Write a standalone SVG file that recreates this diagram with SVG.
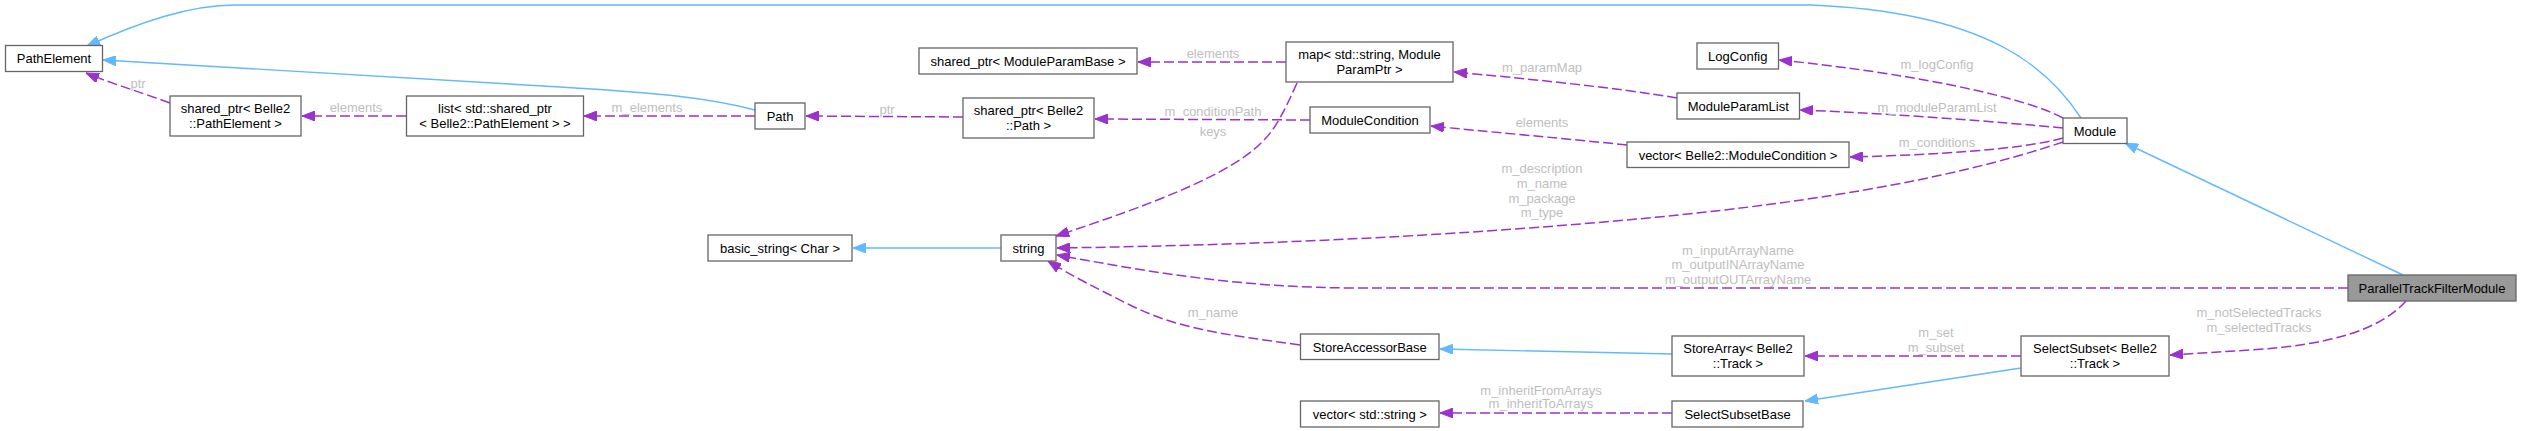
<svg xmlns="http://www.w3.org/2000/svg" width="2521" height="431" viewBox="0 0 2521 431">
<style>
.n rect{fill:#ffffff;stroke:#666666;stroke-width:1.3}
.n text{font-family:"Liberation Sans",Arial,sans-serif;font-size:13px;fill:#000000;text-anchor:middle}
#ParallelTrackFilterModule rect{fill:#999999}
.inh{fill:none;stroke:#63b8ff;stroke-width:1.4;marker-end:url(#ab)}
.use{fill:none;stroke:#9a32cd;stroke-width:1.5;stroke-dasharray:10,4;marker-end:url(#ap)}
.lbl{font-family:"Liberation Sans",Arial,sans-serif;font-size:13px;fill:#bebebe;text-anchor:middle}
</style>
<defs>
<marker id="ab" viewBox="0 0 13 10" refX="13" refY="5" markerWidth="13" markerHeight="10" markerUnits="userSpaceOnUse" orient="auto"><path d="M0,0 L13,5 L0,10 z" fill="#63b8ff" stroke="#63b8ff"/></marker>
<marker id="ap" viewBox="0 0 13 10" refX="13" refY="5" markerWidth="13" markerHeight="10" markerUnits="userSpaceOnUse" orient="auto"><path d="M0,0 L13,5 L0,10 z" fill="#9a32cd" stroke="#9a32cd"/></marker>
</defs>
<rect width="2521" height="431" fill="#ffffff"/>
<g id="connectors">
<path class="inh" d="M2081,118 C2050,70 1990,12 1810,5 L235,5 C190,5 140,22 87,46"/>
<path class="inh" d="M755,110 C710,98 660,93 560,87 L103,60"/>
<path class="use" d="M170,103 C140,92 110,83 86,73"/>
<path class="use" d="M406,116 L302,116"/>
<path class="use" d="M755,116 L584,116"/>
<path class="use" d="M963,117 L806,116"/>
<path class="use" d="M1310,120 L1095,119"/>
<path class="use" d="M1286,62 L1138,62"/>
<path class="use" d="M1297,83 C1285,110 1275,130 1262,142 C1230,175 1150,205 1056,236"/>
<path class="use" d="M1677,98 C1620,88 1520,78 1454,72"/>
<path class="use" d="M1627,145 C1560,138 1490,132 1431,126"/>
<path class="use" d="M2063,118 C2020,95 1900,72 1779,60"/>
<path class="use" d="M2063,128 C2000,122 1900,114 1800,110"/>
<path class="use" d="M2063,138 C2020,150 1930,155 1850,157"/>
<path class="use" d="M2063,142 C1950,180 1800,205 1615,221 C1400,240 1200,246 1057,248"/>
<path class="use" d="M2348,288 L1360,288 C1240,288 1150,272 1057,255"/>
<path class="use" d="M1300,345 C1230,335 1180,330 1130,305 C1100,290 1070,275 1048,261"/>
<path class="inh" d="M1001,248 L853,248"/>
<path class="inh" d="M1672,354 L1440,349"/>
<path class="use" d="M2021,356 L1805,356"/>
<path class="inh" d="M2021,368 L1805,401"/>
<path class="use" d="M1672,413 L1440,413"/>
<path class="use" d="M2406,301 C2380,330 2330,345 2250,350 L2170,355"/>
<path class="inh" d="M2403,275 L2125,143"/>
<text class="lbl" x="138" y="88">ptr</text>
<text class="lbl" x="356" y="112">elements</text>
<text class="lbl" x="647" y="112">m_elements</text>
<text class="lbl" x="887" y="114">ptr</text>
<text class="lbl" x="1213" y="58">elements</text>
<text class="lbl" x="1213" y="116">m_conditionPath</text>
<text class="lbl" x="1213" y="136">keys</text>
<text class="lbl" x="1542" y="72">m_paramMap</text>
<text class="lbl" x="1542" y="127">elements</text>
<text class="lbl" x="1542" y="173">m_description</text>
<text class="lbl" x="1542" y="188">m_name</text>
<text class="lbl" x="1542" y="203">m_package</text>
<text class="lbl" x="1542" y="217">m_type</text>
<text class="lbl" x="1937" y="69">m_logConfig</text>
<text class="lbl" x="1937" y="112">m_moduleParamList</text>
<text class="lbl" x="1937" y="147">m_conditions</text>
<text class="lbl" x="1738" y="255">m_inputArrayName</text>
<text class="lbl" x="1738" y="269">m_outputINArrayName</text>
<text class="lbl" x="1738" y="284">m_outputOUTArrayName</text>
<text class="lbl" x="1213" y="317">m_name</text>
<text class="lbl" x="1936" y="337">m_set</text>
<text class="lbl" x="1936" y="352">m_subset</text>
<text class="lbl" x="1541" y="395">m_inheritFromArrays</text>
<text class="lbl" x="1541" y="408">m_inheritToArrays</text>
<text class="lbl" x="2259" y="317">m_notSelectedTracks</text>
<text class="lbl" x="2259" y="332">m_selectedTracks</text>
</g>
<g id="PathElement" class="n"><rect x="5.5" y="45.5" width="97" height="26"/><text x="54" y="63">PathElement</text></g>
<g id="shared_ptr_PathElement" class="n"><rect x="170" y="96" width="131" height="40"/><text x="235.5" y="113">shared_ptr&lt; Belle2</text><text x="235.5" y="127.5">::PathElement &gt;</text></g>
<g id="list_shared_ptr" class="n"><rect x="406.5" y="96" width="177" height="40"/><text x="495" y="113">list&lt; std::shared_ptr</text><text x="495" y="127.5">&lt; Belle2::PathElement &gt; &gt;</text></g>
<g id="Path" class="n"><rect x="755" y="103" width="50" height="26"/><text x="780" y="120.5">Path</text></g>
<g id="shared_ptr_ModuleParamBase" class="n"><rect x="919" y="48" width="218" height="26"/><text x="1028" y="65.5">shared_ptr&lt; ModuleParamBase &gt;</text></g>
<g id="map_ModuleParamPtr" class="n"><rect x="1286" y="42" width="167" height="40"/><text x="1369.5" y="59">map&lt; std::string, Module</text><text x="1369.5" y="73.5">ParamPtr &gt;</text></g>
<g id="shared_ptr_Path" class="n"><rect x="963" y="98" width="131" height="40"/><text x="1028.5" y="115">shared_ptr&lt; Belle2</text><text x="1028.5" y="129.5">::Path &gt;</text></g>
<g id="ModuleCondition" class="n"><rect x="1310" y="107" width="120" height="26"/><text x="1370" y="124.5">ModuleCondition</text></g>
<g id="LogConfig" class="n"><rect x="1697" y="43" width="81.5" height="26"/><text x="1737.75" y="60.5">LogConfig</text></g>
<g id="ModuleParamList" class="n"><rect x="1677" y="93" width="122.5" height="26"/><text x="1738.25" y="110.5">ModuleParamList</text></g>
<g id="vector_ModuleCondition" class="n"><rect x="1627" y="142" width="222" height="25.5"/><text x="1738" y="159.5">vector&lt; Belle2::ModuleCondition &gt;</text></g>
<g id="Module" class="n"><rect x="2063" y="118" width="64" height="25.5"/><text x="2095" y="135.5">Module</text></g>
<g id="basic_string" class="n"><rect x="708" y="235" width="144" height="26"/><text x="780" y="252.5">basic_string&lt; Char &gt;</text></g>
<g id="string" class="n"><rect x="1001" y="235" width="55" height="26"/><text x="1028.5" y="252.5">string</text></g>
<g id="StoreAccessorBase" class="n"><rect x="1300.5" y="334" width="138.5" height="25.5"/><text x="1369.75" y="351.5">StoreAccessorBase</text></g>
<g id="vector_string" class="n"><rect x="1300.5" y="401" width="138.5" height="26"/><text x="1369.75" y="418.5">vector&lt; std::string &gt;</text></g>
<g id="StoreArray_Track" class="n"><rect x="1672" y="336" width="132" height="40"/><text x="1738" y="353">StoreArray&lt; Belle2</text><text x="1738" y="367.5">::Track &gt;</text></g>
<g id="SelectSubset_Track" class="n"><rect x="2021" y="336" width="148" height="40"/><text x="2095" y="353">SelectSubset&lt; Belle2</text><text x="2095" y="367.5">::Track &gt;</text></g>
<g id="SelectSubsetBase" class="n"><rect x="1672" y="401" width="131" height="26"/><text x="1737.5" y="418.5">SelectSubsetBase</text></g>
<g id="ParallelTrackFilterModule" class="n"><rect x="2348" y="275" width="168" height="26"/><text x="2432" y="292.5">ParallelTrackFilterModule</text></g>
</svg>
